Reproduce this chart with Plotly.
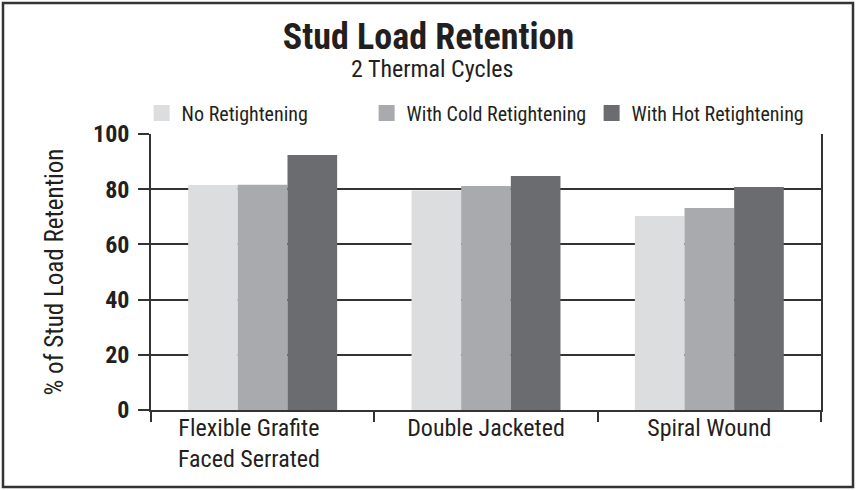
import plotly.graph_objects as go

# ── data ────────────────────────────────────────────────────────────────────
categories = ["Flexible Grafite&nbsp;&nbsp;&nbsp;&nbsp;&nbsp;<br>Faced Serrated&nbsp;&nbsp;&nbsp;&nbsp;&nbsp;",
              "Double Jacketed", "Spiral Wound"]
series_names = ["No Retightening", "With Cold Retightening", "With Hot Retightening"]
no_retight = [81.5, 79.5, 70.3]
cold_retight = [81.6, 81.2, 73.2]
hot_retight = [92.4, 84.8, 80.8]
y_ticks = [0, 20, 40, 60, 80, 100]

# ── style ───────────────────────────────────────────────────────────────────
_LIGHT = "#dcdddf"
_MID = "#a9aaad"
_DARK = "#6b6c70"
_LINE = "#333333"
_TEXT = "#231f20"
_FONT = "Liberation Sans Narrow, Roboto Condensed, Arial Narrow, Liberation Sans, sans-serif"

x_pos = list(range(len(categories)))
boundaries = [i - 0.5 for i in range(len(categories) + 1)]

fig = go.Figure()
for name, vals, col in zip(series_names, [no_retight, cold_retight, hot_retight],
                           [_LIGHT, _MID, _DARK]):
    fig.add_trace(go.Bar(x=x_pos, y=vals, name=name, marker=dict(color=col, line=dict(width=0)),
                         showlegend=False))
    # legend proxy with a bigger square swatch
    fig.add_trace(go.Scatter(x=[None], y=[None], mode="markers", name=name,
                             marker=dict(symbol="square", size=19, color=col)))

# second x axis only for the category boundary ticks
fig.add_trace(go.Scatter(x=[None], y=[None], xaxis="x2", showlegend=False, hoverinfo="skip"))

fig.update_layout(
    width=857, height=490,
    paper_bgcolor="white", plot_bgcolor="white",
    font=dict(family=_FONT, color=_TEXT),
    margin=dict(l=151, r=36, t=134, b=80),
    barmode="group", bargap=0.333, bargroupgap=0,
    title=dict(text="<b>Stud Load Retention</b>", x=0.5, xanchor="center",
               y=1 - 36 / 490, yanchor="middle", font=dict(size=36, color=_TEXT)),
    showlegend=True,
    legend=dict(orientation="h", x=-0.014, xanchor="left", y=(410 - 113) / 276,
                yanchor="middle", font=dict(size=20, color=_TEXT), bgcolor="rgba(0,0,0,0)",
                entrywidth=180, itemclick=False),
    xaxis=dict(range=[-0.5, 2.5], tickvals=x_pos, ticktext=categories, ticks="",
               showline=True, linecolor=_LINE, linewidth=1.5, showgrid=False,
               zeroline=False, tickfont=dict(size=24, color=_TEXT), ticklabelstandoff=-5),
    xaxis2=dict(overlaying="x", range=[-0.5, 2.5], tickvals=boundaries, ticks="outside",
                ticklen=11, tickcolor=_LINE, tickwidth=1.5, showticklabels=False,
                showgrid=False, zeroline=False, side="bottom"),
    yaxis=dict(range=[0, 100], tickvals=y_ticks, ticks="outside", ticklen=11,
               tickcolor=_LINE, tickwidth=1.5, showgrid=True, gridcolor=_LINE, gridwidth=1.5,
               showline=True, linecolor=_LINE, linewidth=1.5, mirror=True, zeroline=False,
               ticklabelstandoff=4,
               tickfont=dict(size=24, color=_TEXT, weight="bold"),
               title=dict(text="% of Stud Load Retention", font=dict(size=25, color=_TEXT),
                          standoff=22)),
)

fig.add_annotation(text="2 Thermal Cycles", xref="paper", yref="paper", x=(432 - 151) / 670,
                   y=(410 - 69) / 276, xanchor="center", yanchor="middle", showarrow=False,
                   font=dict(size=24, color=_TEXT))

# outer frame round the whole picture
fig.add_shape(type="rect", xref="paper", yref="paper",
              x0=(3 - 151) / 670, x1=(853 - 151) / 670,
              y0=(410 - 487) / 276, y1=(410 - 3) / 276,
              line=dict(color="#333333", width=2.5))

fig.write_html("out.html", config={"displayModeBar": False},
               post_script="document.body.style.margin='0';")
